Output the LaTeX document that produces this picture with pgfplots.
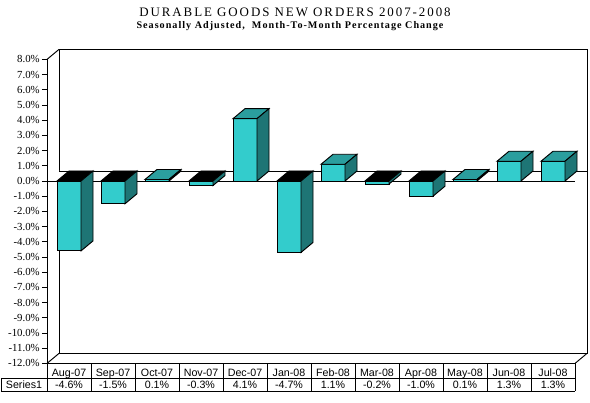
\documentclass[border=0pt]{standalone}
\usepackage{fontspec}
\setmainfont{Liberation Serif}
\newfontfamily\tablefont{Liberation Sans}
\newfontfamily\titlefont[LetterSpace=15]{Liberation Serif}
\newfontfamily\subtitlefont[LetterSpace=10]{Liberation Serif}
\usepackage{pgfplots}
\pgfplotsset{compat=1.18}
\definecolor{cyanfront}{HTML}{33CCCC}
\definecolor{topteal}{HTML}{2B9E9E}
\definecolor{sideteal}{HTML}{1E7575}
\newcommand{\tdbar}[3]{%
  \pgfmathsetmacro\bxl{#1-0.27273}%
  \pgfmathsetmacro\bxr{#1+0.27273}%
  \pgfmathsetmacro\bxrr{#1+0.54545}%
  \pgfmathsetmacro\bxm{#1}%
  \pgfmathsetmacro\btp{max(#2,0)}%
  \pgfmathsetmacro\btpd{\btp+0.65789}%
  \pgfmathsetmacro\bvd{#2+0.65789}%
  \addplot[fill=cyanfront,draw=black,line width=0.7pt] coordinates {(\bxl,0) (\bxr,0) (\bxr,#2) (\bxl,#2)} -- cycle;
  \addplot[fill=#3,draw=black,line width=0.7pt] coordinates {(\bxl,\btp) (\bxr,\btp) (\bxrr,\btpd) (\bxm,\btpd)} -- cycle;
  \addplot[fill=sideteal,draw=black,line width=0.7pt] coordinates {(\bxr,0) (\bxrr,0.65789) (\bxrr,\bvd) (\bxr,#2)} -- cycle;
}
\begin{document}
\begin{tikzpicture}
\begin{axis}[
  x=33pt, y=11.4pt,
  xmin=-0.5, xmax=11.5, ymin=-12, ymax=8,
  clip=false,
  axis line style={draw=none},
  xtick=\empty,
  ytick={-12,-11,...,8},
  ytick pos=left,
  tick align=outside,
  major tick length=3.75pt,
  tick style={black, line width=0.7pt},
  /pgf/number format/assume math mode=true,
  yticklabel={\pgfmathprintnumber[fixed,fixed zerofill,precision=1]{\tick}\%},
  yticklabel style={font=\fontsize{8.1}{9.5}\selectfont, inner sep=1.5pt},
]
% bounding box of the whole picture
\path (-1.5682,-14.6053) rectangle (11.8409,11.9079);
% back wall
\draw[line width=0.7pt] (-0.22727,8.65789) -- (11.77273,8.65789) -- (11.77273,-11.34211) -- (-0.22727,-11.34211) -- cycle;
\draw[line width=0.7pt] (-0.5,8) -- (-0.22727,8.65789);
\draw[line width=0.7pt] (-0.5,-12) -- (-0.22727,-11.34211);
\draw[line width=0.7pt] (11.5,-12) -- (11.77273,-11.34211);
% floor at zero
\fill[white] (-0.5,0) -- (11.5,0) -- (11.77273,0.65789) -- (-0.22727,0.65789) -- cycle;
\draw[line width=0.7pt] (-0.22727,0.65789) -- (11.77273,0.65789);
\draw[line width=0.7pt] (-0.5,0) -- (11.5,0);
% bars
\tdbar{0}{-4.6}{black}
\tdbar{1}{-1.5}{black}
\tdbar{2}{0.1}{topteal}
\tdbar{3}{-0.3}{black}
\tdbar{4}{4.1}{topteal}
\tdbar{5}{-4.7}{black}
\tdbar{6}{1.1}{topteal}
\tdbar{7}{-0.2}{black}
\tdbar{8}{-1.0}{black}
\tdbar{9}{0.1}{topteal}
\tdbar{10}{1.3}{topteal}
\tdbar{11}{1.3}{topteal}
% front axis
\draw[line width=0.7pt] (-0.5,-12) -- (-0.5,8);
\draw[line width=0.7pt] (-0.5,-12) -- (11.5,-12);
% data table
\draw[line width=0.7pt] (-1.5455,-12.96) -- (11.5,-12.96);
\draw[line width=0.7pt] (-1.5455,-13.816) -- (11.5,-13.816);
\draw[line width=0.7pt] (-1.5455,-12.96) -- (-1.5455,-13.816);
\pgfplotsinvokeforeach{0,...,12}{\draw[line width=0.7pt] (#1-0.5,-12) -- (#1-0.5,-13.816);}
\begin{scope}[every node/.style={font=\tablefont\fontsize{8}{9.6}\selectfont, anchor=base, inner sep=0pt}]
\node at (0,-12.83) {Aug-07};
\node at (1,-12.83) {Sep-07};
\node at (2,-12.83) {Oct-07};
\node at (3,-12.83) {Nov-07};
\node at (4,-12.83) {Dec-07};
\node at (5,-12.83) {Jan-08};
\node at (6,-12.83) {Feb-08};
\node at (7,-12.83) {Mar-08};
\node at (8,-12.83) {Apr-08};
\node at (9,-12.83) {May-08};
\node at (10,-12.83) {Jun-08};
\node at (11,-12.83) {Jul-08};
\node at (-1.0227,-13.64) {Series1};
\node at (0,-13.64) {-4.6\%};
\node at (1,-13.64) {-1.5\%};
\node at (2,-13.64) {0.1\%};
\node at (3,-13.64) {-0.3\%};
\node at (4,-13.64) {4.1\%};
\node at (5,-13.64) {-4.7\%};
\node at (6,-13.64) {1.1\%};
\node at (7,-13.64) {-0.2\%};
\node at (8,-13.64) {-1.0\%};
\node at (9,-13.64) {0.1\%};
\node at (10,-13.64) {1.3\%};
\node at (11,-13.64) {1.3\%};
\end{scope}
% titles
\node[font=\titlefont\fontsize{9.7}{11}\selectfont, inner sep=0pt] at (5.136,11.07) {DURABLE GOODS NEW ORDERS 2007-2008};
\node[font=\subtitlefont\bfseries\fontsize{7.6}{9}\selectfont, inner sep=0pt] at (5.023,10.2) {Seasonally Adjusted,\ \ Month-To-Month Percentage Change};
\end{axis}
\end{tikzpicture}
\end{document}
